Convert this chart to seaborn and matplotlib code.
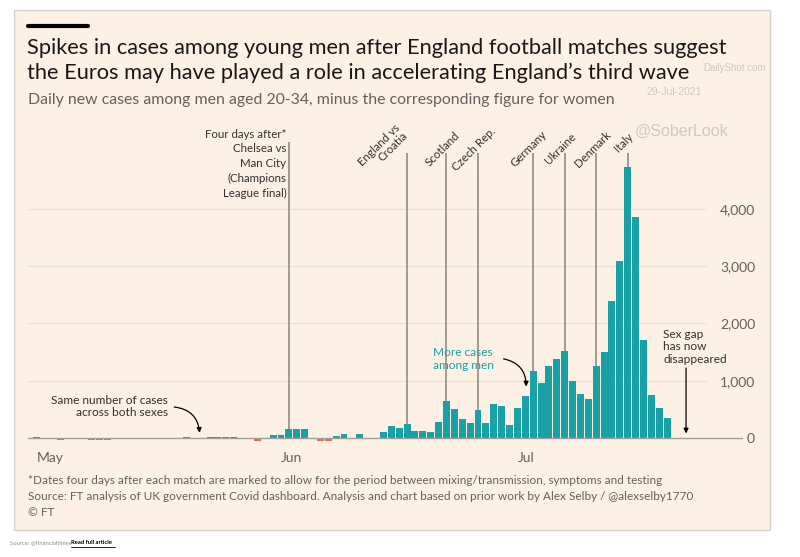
import numpy as np
import pandas as pd
import matplotlib
matplotlib.use('Agg')
import matplotlib.pyplot as plt
import seaborn as sns
from matplotlib.patches import Rectangle
from matplotlib.lines import Line2D

# daily new cases, men aged 20-34 minus women aged 20-34
may = [25, 0, -15, -30, 0, 0, 0, -30, -35, -30, 0, -25, 0, 0, -25, 0, 0, -20, -20, 15,
       0, 0, 20, 20, 20, 15, 0, 0, -45, 0, 55]
jun = [60, 155, 160, 155, 0, -45, -50, 35, 70, 0, 70, 0, -15, 110, 215, 180, 240, 115, 115, 100,
       273, 648, 506, 328, 268, 495, 270, 590, 558, 235]
jul = [515, 738, 1170, 958, 1252, 1375, 1520, 993, 765, 688, 1258, 1503, 2396, 3094, 4735, 3862,
       1710, 750, 530, 355]

start = pd.Timestamp('2021-05-01')
gap = np.array(may + jun + jul)
dates = pd.date_range(start, periods=len(gap))

# match dates, marked four days after each match
match_labels = ['Four days after*\nChelsea vs\nMan City\n(Champions\nLeague final)',
                'England vs\nCroatia', 'Scotland', 'Czech Rep.', 'Germany', 'Ukraine',
                'Denmark', 'Italy']
match_dates = ['2021-06-02', '2021-06-17', '2021-06-22', '2021-06-26', '2021-07-03',
               '2021-07-07', '2021-07-11', '2021-07-15']

month_ticks = ['2021-05-01', '2021-06-01', '2021-07-01']
month_labels = ['May', 'Jun', 'Jul']
y_ticks = [0, 1000, 2000, 3000, 4000]
y_labels = ['0', '1,000', '2,000', '3,000', '4,000']

title_lines = ['Spikes in cases among young men after England football matches suggest',
               'the Euros may have played a role in accelerating England\u2019s third wave']

PEACH = '#FDF1E6'
TEAL = '#1AA1A6'
RED = '#E8694A'
GREY = '#66605C'
DARK = '#33302E'
ZERO = '#A59D97'
GRID = '#EADFD5'
MARK = '#8A827C'
WATER = '#CFC8C2'

def day(d):
    return (pd.Timestamp(d) - start).days

df = pd.DataFrame({'day': (dates - start).days, 'gap': gap,
                   'sign': np.where(gap >= 0, 'men', 'women')})

sns.set_theme(style='white')
plt.rcParams['font.family'] = ['Lato', 'DejaVu Sans']

fig = plt.figure(figsize=(8, 5.57), dpi=100)
fig.add_artist(Rectangle((14 / 800, 1 - 530 / 557), 756 / 800, 520 / 557,
                         transform=fig.transFigure, facecolor=PEACH,
                         edgecolor='#D9D2CC', lw=1, zorder=0))

ax = fig.add_axes([28 / 800, 1 - 446 / 557, 714 / 800, 326 / 557])
ax.set_facecolor('none')

sns.barplot(data=df, x='day', y='gap', hue='sign', palette={'men': TEAL, 'women': RED},
            native_scale=True, width=0.88, dodge=False, legend=False, saturation=1,
            linewidth=0, ax=ax)

ax.set_xlim(-1.1, 89.5)
ax.set_ylim(-140, 5550)

for y in y_ticks[1:]:
    ax.axhline(y, xmin=0, xmax=0.95, color=GRID, lw=0.9, zorder=0.5)

# match marker lines
for lab, d in zip(match_labels, match_dates):
    top = 5170 if lab.startswith('Four') else 4975
    ax.vlines(day(d), 0, top, color=MARK, lw=1.1, zorder=0.8)

ax.text(day('2021-06-02') - 0.3, 5400, match_labels[0], ha='right', va='top',
        fontsize=8.3, color=DARK, linespacing=1.42)

ax.annotate(match_labels[1], xy=(day(match_dates[1]), 4975), xytext=(2, 11),
            textcoords='offset points', rotation=45, rotation_mode='anchor',
            ha='right', va='bottom', multialignment='right', fontsize=8.3, color=DARK,
            linespacing=1.0)
for lab, d in zip(match_labels[2:], match_dates[2:]):
    dy = 5 if lab == 'Italy' else 0
    ax.annotate(lab, xy=(day(d), 4975), xytext=(0, dy), textcoords='offset points',
                rotation=45, rotation_mode='anchor', ha='center', va='bottom',
                fontsize=8.3, color=DARK)

# annotations
ax.text(16.7, 550, 'Same number of cases\nacross both sexes', ha='right', va='center',
        fontsize=8.6, color=DARK, linespacing=1.15)
ax.annotate('', xy=(20.7, 40), xytext=(17.1, 545),
            arrowprops=dict(arrowstyle='-|>', color='black', lw=0.9, mutation_scale=7,
                            connectionstyle='arc3,rad=-0.45'))

ax.text(54.1, 1380, 'More cases\namong men', ha='center', va='center',
        fontsize=8.6, color=TEAL, linespacing=1.15)
ax.annotate('', xy=(62.1, 850), xytext=(58.9, 1390),
            arrowprops=dict(arrowstyle='-|>', color='black', lw=0.9, mutation_scale=7,
                            connectionstyle='arc3,rad=-0.45'))

ax.text(79.5, 1590, 'Sex gap\nhas now\ndisappeared', ha='left', va='center',
        fontsize=8.6, color=DARK, linespacing=1.15)
ax.annotate('', xy=(82.4, 30), xytext=(82.4, 1270),
            arrowprops=dict(arrowstyle='-|>', color='black', lw=0.9, mutation_scale=7))

# axes styling
for s in ['top', 'left', 'right']:
    ax.spines[s].set_visible(False)
ax.spines['bottom'].set_position(('data', 0))
ax.spines['bottom'].set_color(ZERO)
ax.spines['bottom'].set_linewidth(1)
ax.set_xticks([day(m) for m in month_ticks])
ax.set_xticklabels(month_labels, ha='left')
ax.tick_params(axis='x', length=4, width=1, color=ZERO, pad=6, labelsize=10, labelcolor=GREY)
ax.yaxis.tick_right()
ax.set_yticks(y_ticks)
ax.set_yticklabels(y_labels)
ax.tick_params(axis='y', length=0, pad=9.4, labelsize=10, labelcolor=GREY)
for t in ax.get_yticklabels():
    t.set_horizontalalignment('right')
ax.set_xlabel('')
ax.set_ylabel('')

# titles
fig.add_artist(Line2D([28 / 800, 88 / 800], [1 - 26 / 557, 1 - 26 / 557],
                      transform=fig.transFigure, color='black', lw=3))
for i, line in enumerate(title_lines):
    fig.text(27 / 800, 1 - (48 + 25 * i) / 557, line, ha='left', va='center',
             fontsize=15.7, color='#1A1817')
fig.text(28 / 800, 1 - 100 / 557,
         'Daily new cases among men aged 20-34, minus the corresponding figure for women',
         ha='left', va='center', fontsize=11.4, color=GREY)

# watermarks
fig.text(766 / 800, 1 - 68 / 557, 'DailyShot.com', ha='right', va='center', fontsize=7,
         color=WATER, family='Liberation Sans')
fig.text(702 / 800, 1 - 92 / 557, '29-Jul-2021', ha='right', va='center', fontsize=7.5,
         color=WATER, family='Liberation Sans')
fig.text(635 / 800, 1 - 131 / 557, '@SoberLook', ha='left', va='center', fontsize=11.5,
         color=WATER, family='Liberation Sans')

# footer
notes = ['*Dates four days after each match are marked to allow for the period between '
         'mixing/transmission, symptoms and testing',
         'Source: FT analysis of UK government Covid dashboard. Analysis and chart based on '
         'prior work by Alex Selby / @alexselby1770',
         '\u00a9 FT']
for i, line in enumerate(notes):
    fig.text(28 / 800, 1 - (481 + 16 * i) / 557, line, ha='left', va='center',
             fontsize=8.45, color=GREY)

fig.text(10 / 800, 1 - 543 / 557, 'Source: @financialtimes', ha='left', va='center',
         fontsize=4.2, color='#8C8C8C')
fig.text(71 / 800, 1 - 543 / 557, 'Read full article', ha='left', va='center',
         fontsize=4.2, color='black', weight='bold')
fig.add_artist(Line2D([71 / 800, 115 / 800], [1 - 547 / 557, 1 - 547 / 557],
                      transform=fig.transFigure, color='black', lw=0.6))

fig.savefig('out.png', dpi=100, facecolor='white')
